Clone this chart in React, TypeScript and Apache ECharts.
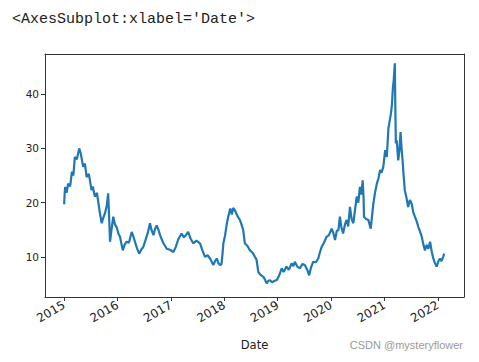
import React, { useEffect, useRef } from "react";
import * as echarts from "echarts";

const dates: string[] = [
  "2015-01-01","2015-01-04","2015-01-08","2015-01-18","2015-01-28","2015-02-11","2015-02-23","2015-03-05","2015-03-15","2015-03-29",
  "2015-04-14","2015-04-25","2015-05-11","2015-05-23","2015-06-04","2015-06-19","2015-07-07","2015-07-16","2015-07-30","2015-08-13",
  "2015-09-03","2015-09-15","2015-09-23","2015-10-07","2015-10-20","2015-10-29","2015-11-05","2015-11-11","2015-11-21","2015-12-03",
  "2015-12-14","2015-12-26","2016-01-08","2016-01-18","2016-02-06","2016-02-18","2016-03-03","2016-03-19","2016-04-07","2016-04-18",
  "2016-04-29","2016-05-13","2016-05-28","2016-06-13","2016-06-25","2016-07-14","2016-07-27","2016-08-10","2016-08-20","2016-09-03",
  "2016-09-14","2016-09-25","2016-10-07","2016-10-18","2016-11-08","2016-12-03","2016-12-25","2017-01-18","2017-02-02","2017-02-19",
  "2017-03-14","2017-03-30","2017-04-13","2017-04-28","2017-05-14","2017-06-02","2017-06-24","2017-07-18","2017-08-04","2017-08-21",
  "2017-09-08","2017-09-25","2017-10-17","2017-10-29","2017-11-10","2017-11-22","2017-12-02","2017-12-12","2017-12-19","2017-12-25",
  "2018-01-06","2018-01-18","2018-01-28","2018-02-10","2018-02-21","2018-03-02","2018-03-14","2018-03-30","2018-04-17","2018-04-28",
  "2018-05-10","2018-05-21","2018-06-08","2018-06-25","2018-07-12","2018-07-29","2018-08-09","2018-08-21","2018-09-02","2018-09-14",
  "2018-09-25","2018-10-06","2018-10-17","2018-10-29","2018-11-10","2018-11-23","2018-12-10","2018-12-25","2019-01-10","2019-01-28",
  "2019-02-10","2019-03-02","2019-03-18","2019-04-06","2019-04-18","2019-04-28","2019-05-15","2019-06-02","2019-06-19","2019-07-05",
  "2019-07-22","2019-08-04","2019-08-16","2019-09-01","2019-09-19","2019-10-05","2019-10-16","2019-10-28","2019-11-13","2019-12-01",
  "2019-12-17","2020-01-05","2020-01-16","2020-01-28","2020-02-09","2020-02-20","2020-03-01","2020-03-11","2020-03-23","2020-04-05",
  "2020-04-16","2020-04-27","2020-05-09","2020-05-20","2020-06-01","2020-06-12","2020-06-24","2020-07-05","2020-07-16","2020-07-26",
  "2020-08-04","2020-08-10","2020-08-13","2020-08-27","2020-09-12","2020-09-28","2020-10-07","2020-10-16","2020-10-27","2020-11-09",
  "2020-11-20","2020-12-01","2020-12-11","2020-12-23","2021-01-05","2021-01-16","2021-01-27","2021-02-13","2021-02-20","2021-02-27",
  "2021-03-04","2021-03-12","2021-03-15","2021-03-19","2021-03-25","2021-04-04","2021-04-12","2021-04-20","2021-04-27","2021-05-04",
  "2021-05-11","2021-05-19","2021-05-30","2021-06-11","2021-06-23","2021-07-05","2021-07-16","2021-07-27","2021-08-09","2021-08-20",
  "2021-09-01","2021-09-12","2021-09-23","2021-10-04","2021-10-16","2021-10-27","2021-11-08","2021-11-19","2021-11-30","2021-12-12",
  "2021-12-23","2022-01-04","2022-01-15","2022-01-25","2022-02-06","2022-02-12",
];

const values: number[] = [
  19.7,21.5,22.9,21.8,23.5,23.0,25.7,25.0,28.4,28.0,
  30.0,29.0,26.6,27.2,24.7,25.3,22.3,23.0,21.1,21.8,
  18.0,16.2,17.0,18.0,19.5,21.7,17.0,12.8,15.0,17.4,
  16.0,15.5,14.2,13.7,11.2,12.2,12.8,12.6,14.6,13.8,
  12.8,11.6,10.6,11.4,11.8,13.4,14.5,16.2,15.0,14.0,
  15.2,15.8,15.0,14.0,12.6,11.5,11.3,10.9,11.8,13.2,
  14.3,13.6,14.0,14.6,13.4,12.5,13.0,12.5,11.2,10.0,
  10.3,9.7,8.5,9.2,9.7,8.8,8.5,8.6,10.5,12.5,
  14.0,16.2,17.5,18.9,17.8,19.0,18.6,17.6,16.8,16.0,
  14.9,12.5,12.0,11.2,10.8,10.0,9.5,7.2,6.8,6.5,
  6.3,5.8,5.1,5.6,5.7,5.3,5.6,5.7,6.5,7.9,
  7.2,8.2,7.6,8.8,8.3,9.1,8.2,7.9,8.7,8.5,
  7.6,6.6,8.0,9.1,9.0,9.7,10.8,11.8,12.6,13.7,
  14.0,15.2,14.4,13.1,14.8,14.9,17.4,15.5,14.3,16.0,
  16.8,15.6,19.2,17.0,16.2,18.5,21.1,20.0,22.9,21.5,
  24.1,21.0,17.4,17.0,16.8,15.2,17.5,19.8,21.8,23.5,
  24.5,26.0,25.5,26.6,29.7,28.4,33.7,36.4,38.0,41.3,
  42.5,45.7,38.0,30.9,31.5,27.8,29.5,33.0,30.0,27.8,
  25.0,22.3,21.0,19.2,20.5,19.8,18.2,17.4,16.5,15.5,
  14.6,13.7,12.3,11.2,12.2,11.5,12.8,11.0,9.7,8.8,
  8.2,9.2,9.7,9.2,10.0,10.6,
];

const xTickYears: number[] = [2015, 2016, 2017, 2018, 2019, 2020, 2021, 2022];
const yTicks: number[] = [10, 20, 30, 40];
const xMin = "2014-08-23";
const xMax = "2022-06-28";
const yMin = 2.6;
const yMax = 47.4;

const toTime = (d: string) => new Date(`${d}T00:00:00Z`).getTime();

export default function App() {
  const ref = useRef<HTMLDivElement>(null);
  useEffect(() => {
    if (!ref.current) return;
    const chart = echarts.init(ref.current, null, { renderer: "svg" });
    const tickTimes = xTickYears.map((y) => toTime(`${y}-01-01`));
    const data = dates.map((d, i) => [toTime(d), values[i]]);
    const spine = { show: true, lineStyle: { color: "#333", width: 1 } };
    chart.setOption({
      animation: false,
      backgroundColor: "#ffffff",
      title: {
        text: "<AxesSubplot:xlabel='Date'>",
        left: 4,
        top: 4,
        padding: 0,
        textStyle: {
          fontFamily: "Liberation Mono",
          fontSize: 15,
          fontWeight: "normal",
          color: "#222",
        },
      },
      graphic: [
        {
          type: "text",
          right: 24,
          top: 331,
          style: {
            text: "CSDN @mysteryflower",
            font: "11px 'Liberation Sans'",
            fill: "#9a9a9a",
          },
        },
      ],
      grid: {
        left: 37,
        right: 23,
        top: 46,
        bottom: 73,
      },
      xAxis: [
        {
          type: "value",
          min: toTime(xMin),
          max: toTime(xMax),
          name: "Date",
          nameLocation: "middle",
          nameGap: 42,
          nameTextStyle: { fontFamily: "DejaVu Sans", fontSize: 11.5, color: "#222" },
          axisLine: spine,
          splitLine: { show: false },
          axisTick: {
            show: true,
            length: 4,
            customValues: tickTimes,
            lineStyle: { color: "#333", width: 1 },
          },
          axisLabel: {
            customValues: tickTimes,
            rotate: 30,
            margin: 7,
            fontFamily: "DejaVu Sans",
            fontSize: 12,
            color: "#222",
            formatter: (v: number) => String(new Date(v).getUTCFullYear()),
          },
        },
        {
          type: "value",
          position: "top",
          min: toTime(xMin),
          max: toTime(xMax),
          axisLine: spine,
          axisTick: { show: false },
          axisLabel: { show: false },
          splitLine: { show: false },
        },
      ],
      yAxis: [
        {
          type: "value",
          min: yMin,
          max: yMax,
          axisLine: spine,
          splitLine: { show: false },
          axisTick: {
            show: true,
            length: 4,
            customValues: yTicks,
            lineStyle: { color: "#333", width: 1 },
          },
          axisLabel: {
            customValues: yTicks,
            margin: 6,
            fontFamily: "DejaVu Sans",
            fontSize: 10.5,
            color: "#222",
          },
        },
        {
          type: "value",
          position: "right",
          min: yMin,
          max: yMax,
          axisLine: spine,
          axisTick: { show: false },
          axisLabel: { show: false },
          splitLine: { show: false },
        },
      ],
      series: [
        {
          type: "line",
          data,
          showSymbol: false,
          lineStyle: { color: "#1f77b4", width: 2.2 },
          itemStyle: { color: "#1f77b4" },
        },
      ],
    });
    return () => chart.dispose();
  }, []);
  return <div ref={ref} style={{ width: 479, height: 362 }} />;
}
